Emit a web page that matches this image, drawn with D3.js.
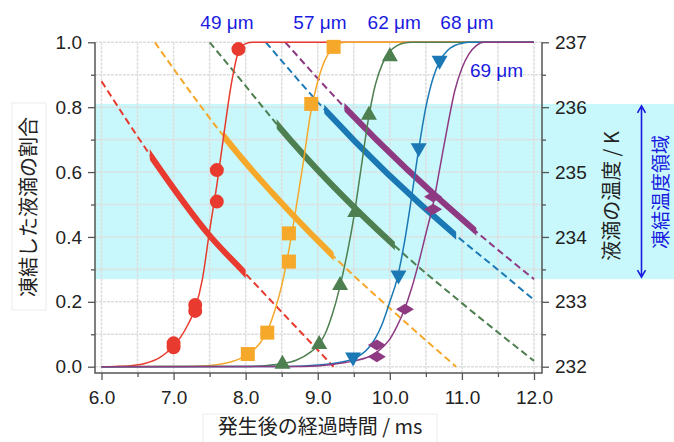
<!DOCTYPE html>
<html>
<head>
<meta charset="utf-8">
<script src="https://cdn.jsdelivr.net/npm/d3@7/dist/d3.min.js"></script>
<style>
  body { margin: 0; background: #fff; }
  svg { display: block; font-family: "Liberation Sans", Arial, sans-serif; }
  .jp { font-family: "Noto Sans CJK JP", sans-serif; }
</style>
</head>
<body>
<div id="chart"></div>
<script>
// droplet diameters (one series each)
const sizeLabels = ["49 μm", "57 μm", "62 μm", "68 μm", "69 μm"];
const labelAt = [[7.74, 1.06], [9.03, 1.06], [10.06, 1.06], [11.07, 1.06], [11.48, 0.912]];

// measured frozen fraction [time ms, fraction]
const pointsRed = [[7.0, 0.060], [7.0, 0.072], [7.3, 0.172], [7.3, 0.190], [7.6, 0.509], [7.6, 0.606], [7.9, 0.979]];
const pointsOrange = [[8.03, 0.039], [8.3, 0.105], [8.6, 0.324], [8.6, 0.411], [8.91, 0.81], [9.22, 0.986]];
const pointsGreen = [[8.51, 0.012], [9.02, 0.073], [9.31, 0.255], [9.52, 0.48], [9.71, 0.78], [10.0, 0.96]];
const pointsBlue = [[9.49, 0.025], [10.12, 0.278], [10.40, 0.67], [10.69, 0.94]];
const pointsPurple = [[9.82, 0.031], [9.82, 0.067], [10.21, 0.177], [10.6, 0.485], [10.6, 0.524]];

// fitted frozen-fraction curves [time ms, fraction]
const fitRed = [[6.0, 0], [6.2, 0.001], [6.4, 0.003], [6.6, 0.010], [6.8, 0.027], [6.9, 0.043], [7.0, 0.065], [7.1, 0.092],
  [7.2, 0.13], [7.3, 0.18], [7.4, 0.27], [7.5, 0.42], [7.6, 0.56], [7.7, 0.72], [7.8, 0.87], [7.9, 0.97], [8.0, 0.996], [8.1, 1], [12.0, 1]];
const fitOrange = [[6.0, 0], [7.2, 0.001], [7.4, 0.002], [7.6, 0.006], [7.8, 0.015], [8.0, 0.034], [8.1, 0.05], [8.2, 0.073],
  [8.3, 0.11], [8.4, 0.17], [8.5, 0.25], [8.6, 0.36], [8.7, 0.49], [8.8, 0.63], [8.9, 0.78], [9.0, 0.88], [9.1, 0.945],
  [9.2, 0.98], [9.3, 0.997], [9.4, 1], [12.0, 1]];
const fitGreen = [[6.0, 0], [8.0, 0.001], [8.3, 0.004], [8.5, 0.009], [8.7, 0.02], [8.9, 0.045], [9.0, 0.065], [9.1, 0.1],
  [9.2, 0.16], [9.3, 0.24], [9.4, 0.34], [9.5, 0.46], [9.6, 0.61], [9.7, 0.76], [9.8, 0.87], [9.9, 0.935], [10.0, 0.972],
  [10.1, 0.99], [10.2, 0.998], [10.3, 1], [12.0, 1]];
const fitBlue = [[6.0, 0], [8.6, 0.001], [9.0, 0.005], [9.3, 0.013], [9.5, 0.025], [9.6, 0.037], [9.7, 0.057], [9.8, 0.088],
  [9.9, 0.135], [10.0, 0.2], [10.1, 0.27], [10.2, 0.38], [10.3, 0.52], [10.4, 0.67], [10.5, 0.8], [10.6, 0.89], [10.7, 0.945],
  [10.8, 0.975], [10.9, 0.99], [11.0, 0.997], [11.1, 1], [12.0, 1]];
const fitPurple = [[6.0, 0], [8.8, 0.001], [9.2, 0.007], [9.5, 0.018], [9.7, 0.03], [9.8, 0.042], [9.9, 0.06], [10.0, 0.085],
  [10.1, 0.125], [10.2, 0.175], [10.3, 0.24], [10.4, 0.32], [10.5, 0.41], [10.6, 0.5], [10.7, 0.62], [10.8, 0.74], [10.9, 0.85],
  [11.0, 0.92], [11.1, 0.965], [11.2, 0.99], [11.3, 1], [12.0, 1]];

// droplet temperature [time ms, K]
const tempRed = [[6.0, 236.40], [6.67, 235.27], [7.5, 234.02], [8.0, 233.43], [9.22, 232.0]];
const tempOrange = [[6.74, 237.0], [7.69, 235.56], [9.22, 233.70], [10.07, 232.83], [10.92, 232.0]];
const tempGreen = [[7.50, 237.0], [7.99, 236.34], [8.43, 235.74], [10.07, 233.86], [11.0, 232.98], [12.0, 232.09]];
const tempBlue = [[8.28, 237.0], [9.09, 235.97], [10.92, 234.02], [11.46, 233.53], [12.0, 233.03]];
const tempPurple = [[8.55, 237.0], [9.37, 236.0], [11.20, 234.08], [12.0, 233.35]];

// time range where the temperature line is drawn bold (freezing window)
const boldRanges = [[6.67, 8.0], [7.69, 9.22], [8.43, 10.07], [9.09, 10.92], [9.37, 11.20]];

// freezing temperature region, K
const freezeBand = [233.35, 236.05];

const xTicks = [6, 7, 8, 9, 10, 11, 12];
const xMinor = [6.5, 7.5, 8.5, 9.5, 10.5, 11.5];
const yTicks = [0, 0.2, 0.4, 0.6, 0.8, 1.0];
const yMinor = [0.1, 0.3, 0.5, 0.7, 0.9];
const tTicks = [232, 233, 234, 235, 236, 237];
const tMinor = [232.5, 233.5, 234.5, 235.5, 236.5];

const colors = ["#e83a2e", "#f6a82a", "#4e7f50", "#1a78b5", "#8d3a83"];
const shapes = ["circle", "square", "triangleUp", "triangleDown", "diamond"];
const fits = [fitRed, fitOrange, fitGreen, fitBlue, fitPurple];
const points = [pointsRed, pointsOrange, pointsGreen, pointsBlue, pointsPurple];
const temps = [tempRed, tempOrange, tempGreen, tempBlue, tempPurple];

const W = 674, H = 442;
const frameL = 95, frameR = 542, frameT = 42.3, frameB = 373;

const x = d3.scaleLinear().domain([6, 12]).range([101.5, 534]);
const y = d3.scaleLinear().domain([0, 1]).range([366.7, 42.3]);
const yT = d3.scaleLinear().domain([232, 237]).range([366.7, 42.3]);

const svg = d3.select("#chart").append("svg")
    .attr("width", W)
    .attr("height", H);

// cyan freezing band
svg.append("rect")
    .attr("x", frameL)
    .attr("y", yT(freezeBand[1]))
    .attr("width", W - frameL)
    .attr("height", yT(freezeBand[0]) - yT(freezeBand[1]))
    .style("fill", "#c8f8fb");

// grid
const grid = svg.append("g");
grid.selectAll(".vgrid")
    .data(xTicks.concat(xMinor))
    .enter().append("line")
    .attr("x1", d => x(d)).attr("x2", d => x(d))
    .attr("y1", frameT).attr("y2", frameB)
    .style("stroke", "#dedede").style("stroke-width", 1.6).style("stroke-dasharray", "3,1");
grid.selectAll(".hgrid")
    .data(yTicks.concat(yMinor))
    .enter().append("line")
    .attr("x1", frameL).attr("x2", frameR)
    .attr("y1", d => y(d)).attr("y2", d => y(d))
    .style("stroke", "#dedede").style("stroke-width", 1.6).style("stroke-dasharray", "3,1");

// temperature lines: dashed over the whole range, bold inside the freezing window
const tempLine = d3.line()
    .x(d => x(d[0]))
    .y(d => yT(d[1]))
    .curve(d3.curveMonotoneX);

const defs = svg.append("defs");
boldRanges.forEach((r, i) => {
    defs.append("clipPath").attr("id", "bold" + i)
        .append("rect")
        .attr("x", x(r[0])).attr("y", 0)
        .attr("width", x(r[1]) - x(r[0])).attr("height", H);
});

temps.forEach((t, i) => {
    svg.append("path")
        .attr("d", tempLine(t))
        .style("fill", "none")
        .style("stroke", colors[i])
        .style("stroke-width", 2)
        .style("stroke-dasharray", "7,4");
    svg.append("path")
        .attr("d", tempLine(t))
        .attr("clip-path", `url(#bold${i})`)
        .style("fill", "none")
        .style("stroke", colors[i])
        .style("stroke-width", 6);
});

// frozen fraction curves
const fitLine = d3.line()
    .x(d => x(d[0]))
    .y(d => y(d[1]))
    .curve(d3.curveMonotoneX);

fits.forEach((f, i) => {
    svg.append("path")
        .attr("d", fitLine(f))
        .style("fill", "none")
        .style("stroke", colors[i])
        .style("stroke-width", 1.5);
});

// markers
function markerPath(shape) {
    switch (shape) {
        case "circle":
            return d3.symbol().type(d3.symbolCircle).size(154)();
        case "square":
            return "M-7,-7L7,-7L7,7L-7,7Z";
        case "triangleUp":
            return "M0,-8L8,6L-8,6Z";
        case "triangleDown":
            return "M0,8L8,-6L-8,-6Z";
        default:
            return "M-9,0L0,-5.5L9,0L0,5.5Z";
    }
}

points.forEach((p, i) => {
    svg.append("g").selectAll("path")
        .data(p)
        .enter().append("path")
        .attr("d", markerPath(shapes[i]))
        .attr("transform", d => `translate(${x(d[0])},${y(d[1])})`)
        .style("fill", colors[i]);
});

// axes
function styleAxis(g, size) {
    g.select(".domain").remove();
    g.selectAll(".tick line").style("stroke", "#555").style("stroke-width", 1.3);
    g.selectAll(".tick text").style("font-size", size + "px").style("fill", "#222")
        .style("font-family", "'Liberation Sans', Arial, sans-serif");
}

svg.append("g").attr("transform", `translate(${frameL},0)`)
    .call(d3.axisLeft(y).tickValues(yTicks).tickFormat(d3.format(".1f")).tickSize(7).tickPadding(6))
    .call(g => styleAxis(g, 19));
svg.append("g").attr("transform", `translate(${frameL},0)`)
    .call(d3.axisLeft(y).tickValues(yMinor).tickFormat("").tickSize(4))
    .call(g => styleAxis(g, 19));

svg.append("g").attr("transform", `translate(0,${frameB})`)
    .call(d3.axisBottom(x).tickValues(xTicks).tickFormat(d3.format(".1f")).tickSize(7).tickPadding(11))
    .call(g => styleAxis(g, 19));
svg.append("g").attr("transform", `translate(0,${frameB})`)
    .call(d3.axisBottom(x).tickValues(xMinor).tickFormat("").tickSize(4))
    .call(g => styleAxis(g, 19));

svg.append("g").attr("transform", `translate(${frameR},0)`)
    .call(d3.axisRight(yT).tickValues(tTicks).tickFormat(d3.format("d")).tickSize(7).tickPadding(6))
    .call(g => styleAxis(g, 19));
svg.append("g").attr("transform", `translate(${frameR},0)`)
    .call(d3.axisRight(yT).tickValues(tMinor).tickFormat("").tickSize(4))
    .call(g => styleAxis(g, 19));

// frame
svg.append("path")
    .attr("d", `M${frameL},${frameT}V${frameB}H${frameR}V${frameT}`)
    .style("fill", "none")
    .style("stroke", "#555")
    .style("stroke-width", 1.5);

// size labels
svg.selectAll(".sizeLabel")
    .data(sizeLabels)
    .enter().append("text")
    .attr("class", "sizeLabel")
    .attr("x", (d, i) => x(labelAt[i][0]))
    .attr("y", (d, i) => y(labelAt[i][1]))
    .attr("dy", "0.35em")
    .attr("text-anchor", "middle")
    .style("font-size", "19px")
    .style("fill", "#1a1ae0")
    .text(d => d);

// axis titles
svg.append("rect")
    .attr("x", 12).attr("y", 103).attr("width", 34).attr("height", 207)
    .style("fill", "#fff").style("stroke", "#ececec");
svg.append("text")
    .attr("class", "jp")
    .attr("transform", "translate(29,207) rotate(-90)")
    .attr("dy", "0.35em")
    .attr("text-anchor", "middle")
    .style("font-size", "20px")
    .style("fill", "#222")
    .text("凍結した液滴の割合");

svg.append("rect")
    .attr("x", 203).attr("y", 414).attr("width", 234).attr("height", 30)
    .style("fill", "#fff").style("stroke", "#ececec");
svg.append("text")
    .attr("class", "jp")
    .attr("x", 320).attr("y", 427)
    .attr("dy", "0.35em")
    .attr("text-anchor", "middle")
    .style("font-size", "20px")
    .style("fill", "#222")
    .text("発生後の経過時間 / ms");

svg.append("text")
    .attr("class", "jp")
    .attr("transform", "translate(612,196) rotate(-90)")
    .attr("dy", "0.35em")
    .attr("text-anchor", "middle")
    .style("font-size", "20px")
    .style("fill", "#222")
    .text("液滴の温度 / K");

svg.append("text")
    .attr("class", "jp")
    .attr("transform", "translate(661,192) rotate(-90)")
    .attr("dy", "0.35em")
    .attr("text-anchor", "middle")
    .style("font-size", "19px")
    .style("fill", "#1a1ae0")
    .text("凍結温度領域");

// double arrow for the freezing band
const ax = 641.5, a1 = yT(freezeBand[1]) + 2, a2 = yT(freezeBand[0]) - 2;
svg.append("path")
    .attr("d", `M${ax},${a1}V${a2}M${ax - 4},${a1 + 7}L${ax},${a1}L${ax + 4},${a1 + 7}M${ax - 4},${a2 - 7}L${ax},${a2}L${ax + 4},${a2 - 7}`)
    .style("fill", "none")
    .style("stroke", "#1a1ae0")
    .style("stroke-width", 1.6);
</script>
</body>
</html>
